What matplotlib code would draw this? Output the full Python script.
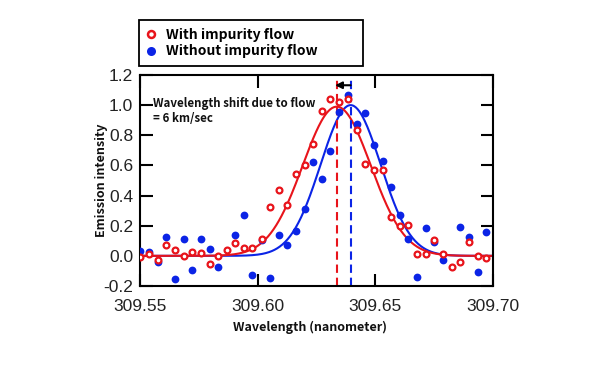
import numpy as np
import matplotlib
matplotlib.use("Agg")
import matplotlib.pyplot as plt
from matplotlib.lines import Line2D

plt.rcParams['axes.unicode_minus'] = False

# ---------------- data ----------------
wl_red = [309.5500, 309.5537, 309.5575, 309.5612, 309.5649, 309.5686, 309.5722,
          309.5759, 309.5796, 309.5833, 309.5868, 309.5905, 309.5941, 309.5978,
          309.6017, 309.6052, 309.6091, 309.6126, 309.6164, 309.6200, 309.6236,
          309.6273, 309.6309, 309.6347, 309.6384, 309.6421, 309.6458, 309.6496,
          309.6533, 309.6567, 309.6604, 309.6640, 309.6677, 309.6714, 309.6751,
          309.6788, 309.6825, 309.6861, 309.6898, 309.6935, 309.6972]
with_flow = [-0.010, 0.015, -0.030, 0.075, 0.040, 0.000, 0.025,
             0.020, -0.055, 0.000, 0.040, 0.085, 0.055, 0.050,
             0.110, 0.327, 0.440, 0.338, 0.540, 0.600, 0.742,
             0.960, 1.038, 1.022, 1.042, 0.834, 0.612, 0.570,
             0.570, 0.256, 0.199, 0.205, 0.015, 0.015, 0.106,
             0.015, -0.075, -0.042, 0.093, 0.000, -0.013]

wl_blue = [309.5500, 309.5537, 309.5575, 309.5612, 309.5649, 309.5686, 309.5722,
           309.5759, 309.5796, 309.5833, 309.5905, 309.5941, 309.5978,
           309.6017, 309.6052, 309.6091, 309.6126, 309.6164, 309.6200, 309.6236,
           309.6273, 309.6309, 309.6347, 309.6384, 309.6421, 309.6458, 309.6496,
           309.6533, 309.6567, 309.6604, 309.6640, 309.6677, 309.6714, 309.6751,
           309.6788, 309.6861, 309.6898, 309.6935, 309.6972]
without_flow = [0.035, 0.027, -0.040, 0.128, -0.152, 0.113, -0.097,
                0.113, 0.046, -0.077, 0.137, 0.274, -0.130,
                0.106, -0.150, 0.139, 0.075, 0.168, 0.311, 0.625,
                0.510, 0.697, 0.956, 1.066, 0.876, 0.951, 0.735,
                0.631, 0.459, 0.272, 0.113, -0.137, 0.187, 0.091,
                -0.026, 0.194, 0.128, -0.108, 0.157]

# Gaussian fit parameters (center, sigma, amplitude)
fit_red = (309.6336, 0.01445, 0.99)
fit_blue = (309.6395, 0.01275, 1.00)

x_ticks = [309.55, 309.60, 309.65, 309.70]
y_ticks = [-0.2, 0.0, 0.2, 0.4, 0.6, 0.8, 1.0, 1.2]

RED = '#e8141b'
BLUE = '#0b24e6'
LABEL_FONT = ['Noto Sans CJK JP', 'DejaVu Sans']

# ---------------- figure ----------------
fig = plt.figure(figsize=(6.0, 3.73), dpi=100)
ax = fig.add_axes([140/600, 1-286/373, 353/600, 211/373])

xs = np.linspace(309.55, 309.70, 400)
def gauss(x, p):
    c, s, a = p
    return a*np.exp(-(x-c)**2/(2*s**2))

ax.plot(xs, gauss(xs, fit_blue), color=BLUE, lw=1.5, zorder=2)
ax.plot(xs, gauss(xs, fit_red), color=RED, lw=1.5, zorder=2.1)

ax.axvline(fit_red[0], color=RED, lw=1.5, ls=(0, (4, 2.3)), zorder=2.5)
ax.axvline(fit_blue[0], color=BLUE, lw=1.5, ls=(0, (4, 2.3)), zorder=2.5)

ax.plot(wl_blue, without_flow, 'o', color=BLUE, ms=5.6, mew=0, zorder=3)
ax.plot(wl_red, with_flow, 'o', mfc='white', mec=RED, ms=4.2, mew=1.6, zorder=3.1)

ax.annotate('', xy=(309.6329, 1.132), xytext=(fit_blue[0], 1.132),
            arrowprops=dict(arrowstyle='-|>', color='black', lw=1.5,
                            mutation_scale=10, shrinkA=0, shrinkB=0), zorder=5)

ax.text(0.037, 0.895, 'Wavelength shift due to flow\n= 6 km/sec',
        transform=ax.transAxes, ha='left', va='top', fontsize=8.3,
        fontweight='bold', family=LABEL_FONT, linespacing=1.15, color='#111')

ax.set_xlim(309.55, 309.70)
ax.set_ylim(-0.2, 1.2)
ax.set_xticks(x_ticks)
ax.set_xticklabels([f'{v:.2f}' for v in x_ticks])
ax.set_yticks(y_ticks)
ax.set_yticklabels([f'{v:.1f}' for v in y_ticks])

for lab in ax.get_xticklabels() + ax.get_yticklabels():
    lab.set_family(['Liberation Sans', 'DejaVu Sans'])
    lab.set_fontsize(12.5)
    lab.set_color('#222')

ax.tick_params(axis='both', which='major', direction='in', length=9, width=1.5,
               top=True, right=True, color='black')
ax.tick_params(axis='x', pad=9.5)
ax.tick_params(axis='y', pad=5)
for sp in ax.spines.values():
    sp.set_linewidth(1.5)
    sp.set_color('black')

ax.set_xlabel('Wavelength (nanometer)', fontsize=9, fontweight='bold',
              family=LABEL_FONT, va='center', color='#111')
ax.xaxis.set_label_coords(0.482, -0.194)
ax.set_ylabel('Emission intensity', fontsize=9, fontweight='bold',
              family=LABEL_FONT, va='center', color='#111')
ax.yaxis.set_label_coords(-0.110, 0.5)

handles = [
    Line2D([], [], ls='none', marker='o', mfc='white', mec=RED, ms=5.0, mew=1.8),
    Line2D([], [], ls='none', marker='o', color=BLUE, ms=6.5, mew=0),
]
leg = fig.legend(handles, ['With impurity flow', 'Without impurity flow'],
                 loc='upper left', bbox_to_anchor=(139/600, 1-68/373, 224/600, 48/373),
                 mode='expand', borderaxespad=0, fancybox=False, framealpha=1,
                 edgecolor='black', handlelength=0.6, handletextpad=0.8,
                 borderpad=0.55, labelspacing=0.2,
                 prop=dict(family=LABEL_FONT, weight='bold', size=10))
leg.get_frame().set_linewidth(1.3)

fig.savefig('out.png', dpi=100)
